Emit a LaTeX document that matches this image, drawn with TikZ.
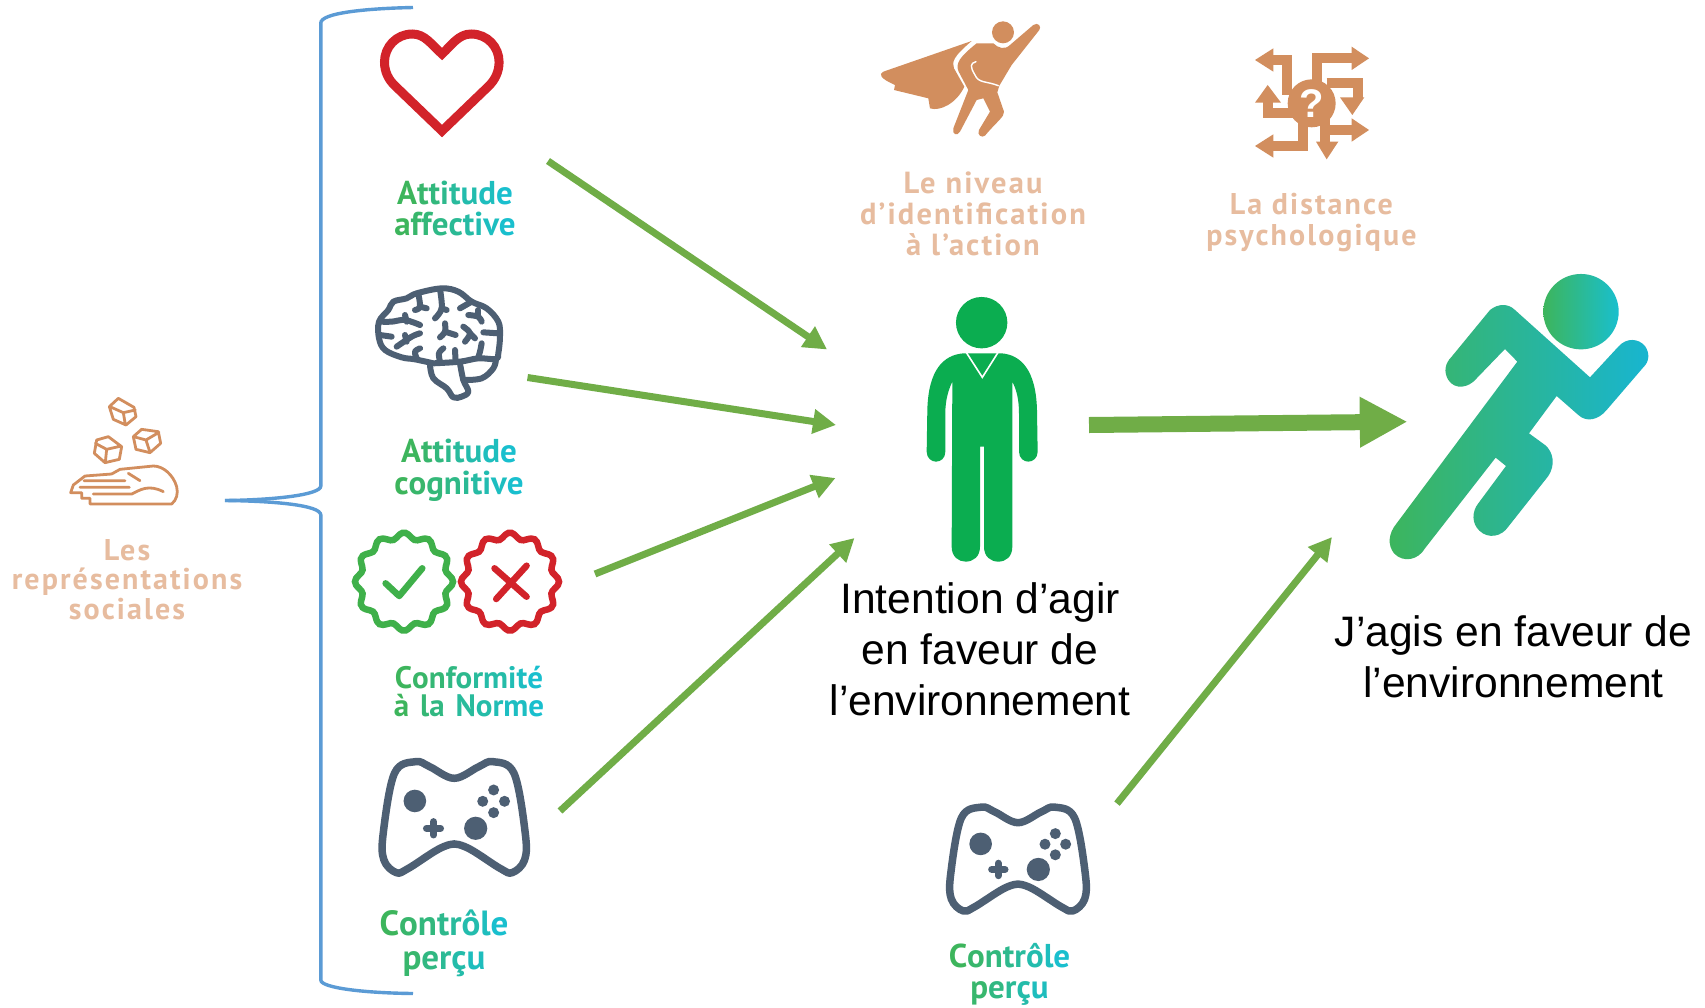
\documentclass[tikz,border=0pt]{standalone}
\usepackage{fontspec}
\setmainfont{Liberation Sans}
\newfontfamily\dinfont[LetterSpace=7]{PT Sans}
\newfontfamily\dingreen[LetterSpace=10]{PT Sans}
\usetikzlibrary{arrows.meta}
\definecolor{grA}{HTML}{3DB55C}
\definecolor{grB}{HTML}{19BFCE}
\definecolor{blueb}{HTML}{5B9BD5}
\definecolor{arrowg}{HTML}{70AD47}
\definecolor{slateic}{HTML}{4D5F73}
\definecolor{tanic}{HTML}{D28E5E}
\definecolor{tantx}{HTML}{E7BC9F}
\definecolor{heartred}{HTML}{D2232A}
\definecolor{badgeg}{HTML}{3FB04A}
\definecolor{persong}{HTML}{0BAD50}
\ExplSyntaxOn
\int_new:N \l_gr_i_int
\int_new:N \l_gr_n_int
\int_new:N \l_gr_p_int
\NewDocumentCommand\gr{O{0}O{100}m}{
  \int_set:Nn \l_gr_n_int {\int_max:nn{\tl_count:n{#3}-1}{1}}
  \int_zero:N \l_gr_i_int
  \tl_map_inline:nn{#3}{
    \int_set:Nn \l_gr_p_int {#1+(#2-#1)*\l_gr_i_int/\l_gr_n_int}
    \textcolor{grB!\int_use:N\l_gr_p_int!grA}{##1}
    \int_incr:N \l_gr_i_int
  }
}
\ExplSyntaxOff
\newcommand{\gamepadicon}[4]{%
\begin{scope}[shift={(#1,#2)},x=#4*.3333pt,y=-#3*.3333pt]
\draw[padline] plot[smooth cycle,tension=.6] coordinates {(100,10)(140,25)(210,60)(280,25)(320,10)(380,45)(412,225)(410,305)(375,343)(340,330)(240,265)(180,265)(80,330)(45,343)(10,305)(8,225)(40,45)};
\fill[slateic] (98,128) circle (11.3pt) (271,210) circle (11.6pt)
 (322,95) circle (5.5pt) (291,129) circle (5.5pt) (353,129) circle (5.5pt) (322,163) circle (5.5pt);
\draw[slateic,line width=7pt,line cap=round] (131,210)--(171,210) (151,190)--(151,230);
\end{scope}}
\newcommand{\labfont}[2]{\dinfont\fontsize{#1}{#2}\selectfont\bfseries}
\newcommand{\grfont}[2]{\dingreen\fontsize{#1}{#2}\selectfont\bfseries}
\tikzset{
 arr/.style={draw=arrowg,line width=7pt,-{Triangle[length=23pt,width=23.5pt]}},
 padline/.style={draw=slateic,line width=7.5pt,line join=round},
 brainline/.style={draw=slateic,line width=6pt,line cap=round,line join=round},
 handline/.style={draw=tanic,line width=2.8pt,line join=round,line cap=round},
 mazeline/.style={draw=tanic,line width=10pt},
 brace/.style={draw=blueb,line width=3.4pt},
 lab/.style={align=center,inner sep=0pt,anchor=base},
 tanlab/.style={align=center,inner sep=0pt,anchor=base,text=tantx},
 maintx/.style={font=\fontsize{42.6}{51}\selectfont,align=center,inner sep=0pt,anchor=base,text=black},
}
\begin{document}
\begin{tikzpicture}[x=1pt,y=-1pt]
\useasboundingbox (0,0) rectangle (1705,1007);
\fill[white] (0,0) rectangle (1705,1007);

% brace
\draw[brace] (413,7.5) .. controls (365,8.5) and (320.8,13) .. (320.8,23) -- (320.8,486) .. controls (320.8,495) and (273,500) .. (225,500.5);
\draw[brace] (225,500.5) .. controls (273,501) and (320.8,505) .. (320.8,515) -- (320.8,980) .. controls (320.8,988) and (365,993) .. (413,993.5);

% heart
\begin{scope}[xscale=1.071]
\draw[heartred,line width=9pt,miter limit=10] (412.7,54) .. controls (403,45) and (397,34) .. (385,34) .. controls (370,34) and (359,47) .. (359,62) .. controls (359,72) and (363,80) .. (369,86) -- (412.7,131) -- (456.4,86) .. controls (462,80) and (466,72) .. (466,62) .. controls (466,47) and (455,34) .. (440,34) .. controls (428,34) and (422,45) .. (412.7,54) -- cycle;
\end{scope}

% brain
\begin{scope}[shift={(365,280)},x=.3333pt,y=-.3333pt]
\draw[brainline] plot[smooth,tension=.6] coordinates {(205,250)(150,238)(110,232)(60,210)(42,175)(42,125)(70,90)(85,65)(125,55)(155,40)(230,25)(280,35)(320,65)(365,85)(400,125)(405,170)(400,220)(393,237)(340,235)(285,245)(205,250)};
\draw[brainline] plot[smooth,tension=.6] coordinates {(393,237)(385,265)(350,295)(295,300)};
\draw[brainline] plot[smooth,tension=.6] coordinates {(195,255)(205,295)(245,325)(265,352)(290,350)(310,335)(295,300)(285,250)};
\foreach \s in {
 {(160,42)(165,80)(150,90)},{(165,80)(185,85)},
 {(225,28)(230,85)(210,115)},{(230,85)(245,90)},{(320,65)(285,85)},
 {(45,125)(80,125)(120,120)(165,135)},{(120,105)(125,125)},{(45,165)(80,170)},
 {(95,200)(140,170)(165,160)},{(120,165)(125,185)},
 {(240,130)(240,155)(225,172)},{(240,155)(272,165)},
 {(295,140)(315,160)(300,185)},{(315,160)(330,175)},
 {(310,105)(340,110)(350,125)},{(340,90)(340,110)},{(355,157)(400,160)},
 {(165,205)(150,215)(155,235)},{(235,205)(222,220)(225,245)},{(270,210)(272,245)},
 {(350,190)(345,215)(340,232)}}
 {\draw[brainline] plot[smooth,tension=.6] coordinates {\s};}
\end{scope}

% badges
\draw[badgeg,line width=6.5pt] plot[smooth cycle,domain=0:356,samples=90] ({404+(46+3*cos(12*\x))*cos(\x)},{581.7+(46+3*cos(12*\x))*sin(\x)});
\draw[heartred,line width=6.5pt] plot[smooth cycle,domain=0:356,samples=90] ({510+(46+3*cos(12*\x))*cos(\x)},{581.7+(46+3*cos(12*\x))*sin(\x)});
\draw[badgeg,line width=6.5pt,line cap=round,line join=round] (385.6,583.3) -- (399.2,596) -- (422.3,568.3);
\draw[heartred,line width=6.5pt,line cap=round] (494.5,568.3) -- (526.6,596.7) (526.6,565.7) -- (496.2,599);

% gamepads
\gamepadicon{380.4}{758.3}{1}{1.055}
\gamepadicon{948}{804}{.935}{1}

% hand with cubes
\begin{scope}[shift={(60,390)},x=.3333pt,y=-.3333pt]
\draw[handline] (175,25)--(222,52)--(228,80)--(198,105)--(160,88)--(148,50)--cycle (190,68)--(150,50) (190,68)--(226,60) (190,68)--(196,104);
\draw[handline] (145,140)--(185,170)--(178,208)--(135,218)--(103,190)--(110,150)--cycle (140,178)--(106,160) (140,178)--(184,168) (140,178)--(136,217);
\draw[handline] (245,118)--(295,125)--(302,160)--(270,188)--(228,178)--(220,140)--cycle (258,150)--(221,140) (258,150)--(297,127) (258,150)--(270,187);
\draw[handline] (90,342) -- (335,342) .. controls (350,330) and (355,310) .. (350,290) .. controls (340,255) and (310,228) .. (280,228) -- (180,238) -- (155,252) -- (75,258) -- (40,285) -- (32,308) -- (65,308) -- (65,325) -- (90,325) -- cycle;
\draw[handline] (72,272)--(195,272) (60,292)--(208,292) (100,312)--(215,312) .. controls (240,300) and (265,282) .. (310,305) (205,250)--(240,272);
\end{scope}

% superhero
\begin{scope}[shift={(870,15)},x=.3333pt,y=-.3333pt]
\fill[tanic] (399,52) circle (11pt);
\fill[tanic] (305,78) -- (40,170) .. controls (25,178) and (30,190) .. (75,210) -- (72,225) -- (175,250) -- (180,280) .. controls (210,290) and (260,265) .. (283,215) -- (252,160) .. controls (245,140) and (250,125) .. (305,78) -- cycle;
\fill[tanic] (320,85) -- (370,85) .. controls (385,100) and (405,105) .. (420,90) -- (490,30) .. controls (505,20) and (515,35) .. (508,45) -- (425,150) -- (388,212) -- (382,232) -- (402,290) .. controls (404,305) and (380,320) .. (345,362) .. controls (335,370) and (320,360) .. (327,345) -- (360,290) -- (340,250) -- (320,255) -- (270,350) .. controls (262,365) and (245,358) .. (250,340) -- (295,225) -- (266,170) .. controls (255,145) and (270,125) .. (320,85) -- cycle;
\draw[white,line width=1.4pt,line cap=round] (318,140) .. controls (300,145) and (300,155) .. (315,180) .. controls (325,205) and (350,198) .. (385,212);
\end{scope}

% maze
\begin{scope}[shift={(1245,40)},x=.3333pt,y=-.3333pt]
\draw[mazeline] (215,140)--(215,55)--(325,55) (125,165)--(125,60)--(80,60) (150,220)--(70,220)--(70,180) (245,130)--(340,130)--(340,175) (255,270)--(325,270) (240,230)--(240,305) (175,250)--(175,318)--(80,318);
\fill[tanic] (320,20)--(372,55)--(320,90)--cycle (85,25)--(30,60)--(85,95)--cycle (30,188)--(68,135)--(108,188)--cycle (285,172)--(358,172)--(322,225)--cycle (320,235)--(372,270)--(320,305)--cycle (213,305)--(280,305)--(245,358)--cycle (85,283)--(30,318)--(85,353)--cycle;
\fill[tanic] (200,190) circle (24pt);
\node[text=white,font=\fontsize{40}{40}\selectfont\bfseries,inner sep=0pt] (qmark) at (200,190) {?};
\end{scope}

% person
\begin{scope}[shift={(900,280)},x=.3333pt,y=-.3333pt]
\fill[persong] (245,128) circle (25.7pt);
\fill[persong] (190,220) .. controls (130,225) and (85,270) .. (82,390) -- (80,515) .. controls (80,535) and (95,545) .. (108,545) .. controls (122,545) and (136,535) .. (136,515) -- (136,400) .. controls (136,360) and (145,330) .. (157,305) -- (155,800) .. controls (155,830) and (175,845) .. (197,845) .. controls (220,845) and (240,830) .. (240,800) -- (240,500) -- (252,500) -- (252,800) .. controls (252,830) and (272,845) .. (295,845) .. controls (318,845) and (337,830) .. (337,800) -- (337,305) .. controls (350,330) and (357,360) .. (357,400) -- (357,515) .. controls (357,535) and (372,545) .. (385,545) .. controls (398,545) and (413,535) .. (413,515) -- (411,390) .. controls (408,270) and (363,225) .. (305,220) -- cycle;
\draw[white,line width=1.6pt] (198,216)--(247,292)--(295,216);
\end{scope}

% runner
\begin{scope}[shift={(1380,260)},x=.3333pt,y=-.3333pt]
\shade[left color=grA,right color=grB] (603,155) circle (37.7pt);
\shade[left color=grA,right color=grB!95!blue] (330,150) .. controls (355,130) and (385,130) .. (405,150) -- (630,352) -- (715,260) .. controls (740,232) and (775,235) .. (795,258) .. controls (810,280) and (808,305) .. (790,322) -- (680,450) .. controls (655,480) and (620,488) .. (595,465) -- (530,408) -- (447,520) -- (495,555) .. controls (520,575) and (527,615) .. (505,648) -- (385,800) .. controls (365,830) and (325,838) .. (298,812) .. controls (275,790) and (275,755) .. (295,730) -- (378,618) -- (347,593) -- (135,865) .. controls (115,900) and (70,910) .. (42,880) .. controls (22,855) and (25,820) .. (50,790) -- (412,305) -- (375,267) -- (290,355) .. controls (265,385) and (225,390) .. (205,360) .. controls (190,335) and (195,310) .. (215,290) -- cycle;
\end{scope}

% labels
\node[lab,font=\grfont{33}{31}] (attaff) at (455,235) {\gr{Attitude}\\\gr{affective}};
\node[lab,font=\grfont{33}{31.5}] (attcog) at (459,494) {\gr{Attitude}\\\gr{cognitive}};
\node[lab,font=\grfont{31}{28.5}] (conf) at (469,716.7) {\gr{Conformité}\\\gr{à~la~Norme}};
\node[lab,font=\grfont{35}{33.5}] (ctrla) at (444,969) {\gr{Contrôle}\\\gr[15][85]{perçu}};
\node[lab,font=\grfont{33}{31}] (ctrlb) at (1009.5,998) {\gr{Contrôle}\\\gr[15][85]{perçu}};
\node[tanlab,font=\labfont{30}{29.5}] (soc) at (127,619) {Les\\représentations\\sociales};
\node[tanlab,font=\labfont{30.5}{31}] (niveau) at (973,255) {Le niveau\\d’identification\\à l’action};
\node[tanlab,font=\labfont{30}{30.5}] (dist) at (1311.4,245) {La distance\\psychologique};
\node[maintx] (intent) at (980,715) {Intention d’agir\\en faveur de\\l’environnement};
\node[maintx] (jagis) at (1513.5,697) {J’agis en faveur de\\l’environnement};

% arrows
\coordinate (a1s) at (548,161); \coordinate (a1t) at (827,349.5);
\coordinate (a2s) at (527.5,377.5); \coordinate (a2t) at (836,425);
\coordinate (a3s) at (595,574); \coordinate (a3t) at (835.5,478);
\coordinate (a4s) at (560,811); \coordinate (a4t) at (854.5,538);
\coordinate (a5s) at (1117,803.6); \coordinate (a5t) at (1332,537);
\coordinate (ms) at (1089,425); \coordinate (mt) at (1407.5,421.7);
\draw[arr] (a1s) -- (a1t);
\draw[arr] (a2s) -- (a2t);
\draw[arr] (a3s) -- (a3t);
\draw[arr] (a4s) -- (a4t);
\draw[arr] (a5s) -- (a5t);
\draw[draw=arrowg,line width=16pt,-{Triangle[length=47.7pt,width=47.4pt]}] (ms) -- (mt);
\end{tikzpicture}
\end{document}
